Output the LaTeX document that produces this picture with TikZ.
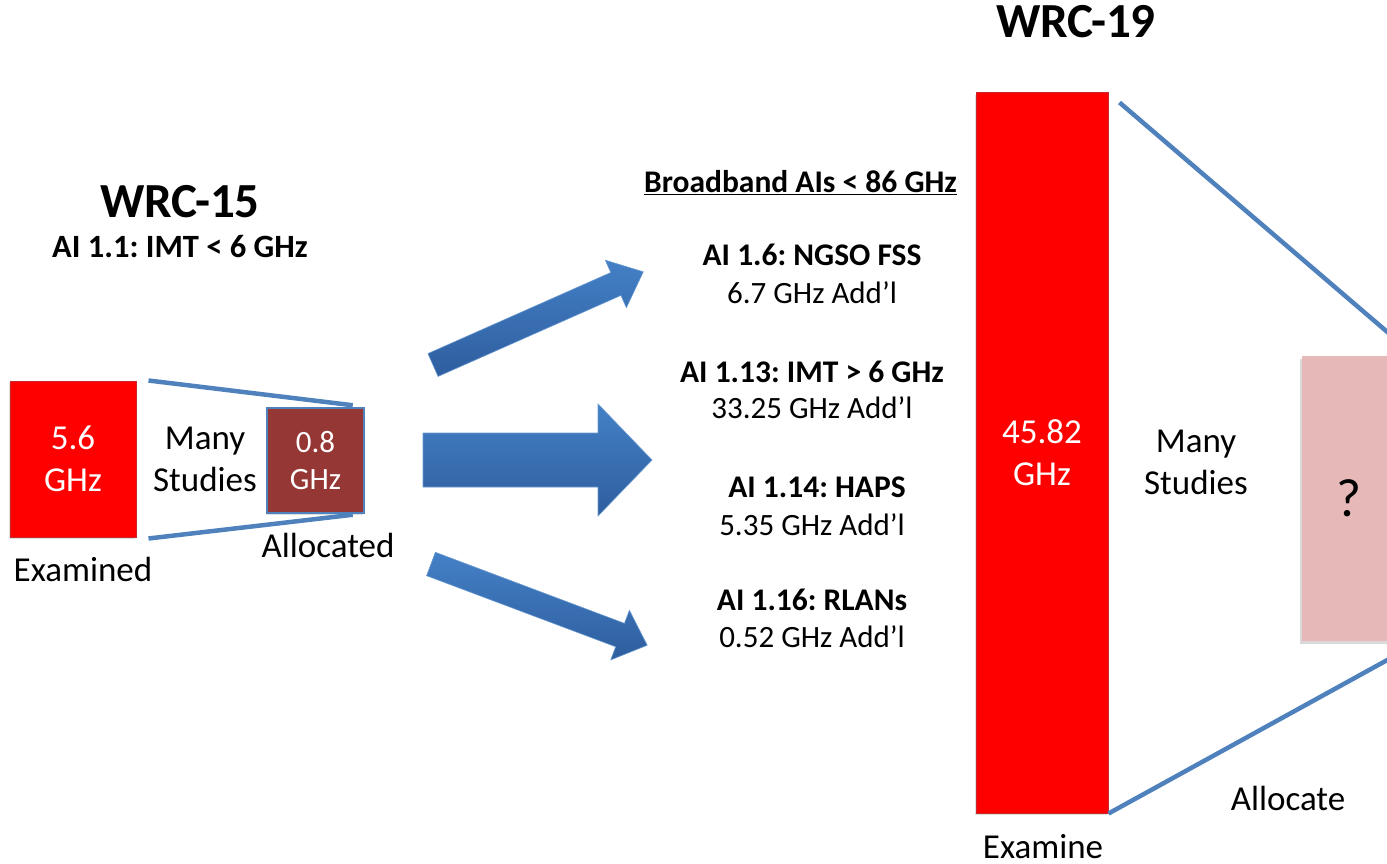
\documentclass[tikz,border=0pt]{standalone}
\usepackage{fontspec}
\setmainfont{Carlito}
\usetikzlibrary{shadows,calc}
\definecolor{lineblue}{RGB}{79,129,189}
\definecolor{arrtop}{RGB}{68,128,198}
\definecolor{arrbot}{RGB}{46,94,158}
\definecolor{brownbox}{RGB}{149,55,53}
\definecolor{pinkbox}{RGB}{230,184,183}
\definecolor{redborder}{RGB}{200,40,45}
\begin{document}
\frenchspacing
\begin{tikzpicture}[x=1pt,y=-1pt,
  txt/.style={inner sep=0pt, align=center, font=\fontsize{35}{42}\selectfont},
  midtxt/.style={inner sep=0pt, anchor=base, font=\fontsize{31}{36}\selectfont},
  midbold/.style={inner sep=0pt, anchor=base, font=\fontsize{31.5}{36}\selectfont\bfseries},
  title/.style={inner sep=0pt, anchor=base, font=\fontsize{49}{58}\selectfont\bfseries},
  redbox/.style={draw=redborder, line width=1pt, fill=red, text=white, inner sep=0pt,
     drop shadow={shadow xshift=-1.5pt, shadow yshift=-2pt, opacity=.25}},
  trap/.style={draw=lineblue, line width=4.5pt},
  bigarrow/.style={top color=arrtop, bottom color=arrbot, draw=arrtop!80!white, line width=0.6pt}
]
\useasboundingbox (0,0) rectangle (1387,864);
\clip (0,0) rectangle (1387,864);

% titles
\node[title] (w15) at (180,217) {WRC-15};
\node[inner sep=0pt, anchor=base, font=\fontsize{32.5}{38}\selectfont\bfseries] (ai11) at (180,257) {AI 1.1: IMT < 6 GHz};
\node[title] (w19) at (1076,38) {WRC-19};

% left boxes
\node[redbox, txt, minimum width=126pt, minimum height=156pt] (ex) at (73,459) {5.6\\GHz};
\node[draw=lineblue, line width=1.5pt, fill=brownbox, text=white, inner sep=0pt, align=center,
  font=\fontsize{31}{37}\selectfont, minimum width=97pt, minimum height=105pt,
  drop shadow={shadow xshift=-1.5pt, shadow yshift=-2pt, opacity=.25}] (al) at (315.5,460.5) {0.8\\GHz};
\node[txt] (ms1) at (205,459) {Many\\Studies};
\node[txt, anchor=base] (exl) at (83,581) {Examined};
\node[txt, anchor=base] (all) at (328,557) {Allocated};
\draw[trap] ($(ex.north east)+(12,0)$) -- ($(al.north east)+(-12,-2)$);
\draw[trap] ($(ex.south east)+(12,1)$) -- ($(al.south east)+(-12,1)$);

% arrows
\begin{scope}[shift={(433,365)}, rotate=23.9]
  \shade[bigarrow] (0,-12.5) -- (200,-12.5) -- (200,-26) -- (230,0) -- (200,26) -- (200,12.5) -- (0,12.5) -- cycle;
\end{scope}
\shade[bigarrow] (423,433) -- (598,433) -- (598,404) -- (652,460) -- (598,516) -- (598,487) -- (423,487) -- cycle;
\begin{scope}[shift={(431,564)}, rotate=-20.6]
  \shade[bigarrow] (0,-12.5) -- (202,-12.5) -- (202,-26.5) -- (231,0) -- (202,26.5) -- (202,12.5) -- (0,12.5) -- cycle;
\end{scope}

% middle text
\node[midbold] (bb) at (800.5,193) {\underline{Broadband AIs < 86 GHz}};
\node[midbold] (a16) at (812,265) {AI 1.6: NGSO FSS};
\node[midtxt] (v16) at (812,303) {6.7 GHz Add’l};
\node[midbold] (a113) at (812,382) {AI 1.13: IMT > 6 GHz};
\node[midtxt] (v113) at (812,418) {33.25 GHz Add’l};
\node[midbold] (a114) at (817,497) {AI 1.14: HAPS};
\node[midtxt] (v114) at (812,535) {5.35 GHz Add’l};
\node[midbold] (a116) at (812,610) {AI 1.16: RLANs};
\node[midtxt] (v116) at (812,647) {0.52 GHz Add’l};

% right part
\node[redbox, txt, minimum width=132pt, minimum height=720pt] (big) at (1042,453) {45.82\\GHz};
\node[fill=pinkbox, inner sep=0pt, minimum width=93pt, minimum height=285pt, align=center,
  font=\fontsize{54}{60}\selectfont,
  drop shadow={shadow xshift=-2pt, shadow yshift=-3pt, opacity=.3}] (pk) at (1348.5,498.5) {?};
\node[txt] (ms2) at (1196,462) {Many\\Studies};
\node[txt, anchor=base] (exm) at (1043,858) {Examine};
\node[txt, anchor=base] (alc) at (1288,810) {Allocate};
\coordinate (tr) at (1420,360);
\coordinate (br) at (1420,642);
\draw[trap] ($(big.north east)+(11,10)$) -- (tr);
\draw[trap] (big.south east) -- (br);
\end{tikzpicture}
\end{document}
